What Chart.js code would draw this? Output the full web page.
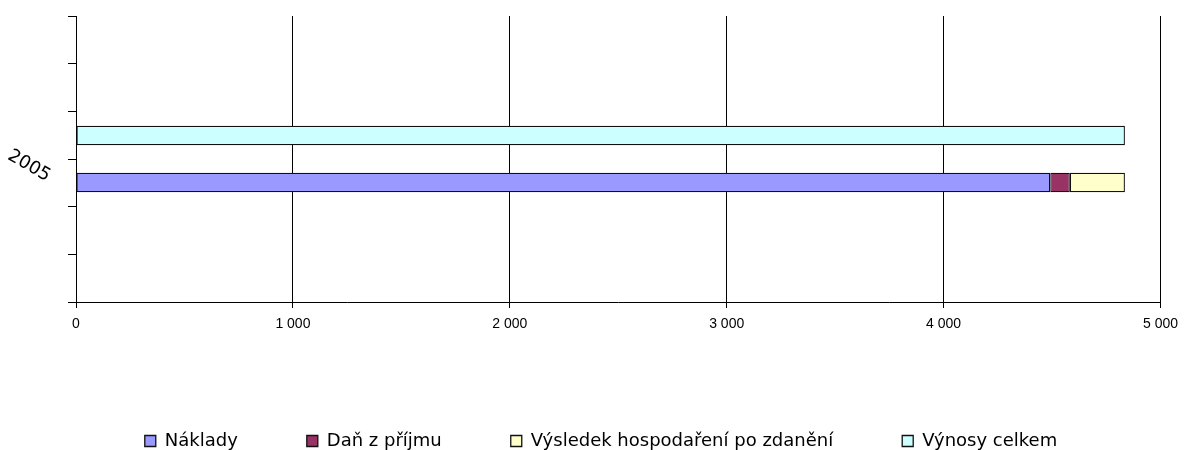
<!DOCTYPE html>
<html>
<head>
<meta charset="utf-8">
<script src="https://cdn.jsdelivr.net/npm/chart.js@4/dist/chart.umd.min.js"></script>
<style>
  html, body { margin: 0; padding: 0; background: #fff; }
  #wrap { width: 1186px; height: 450px; }
</style>
</head>
<body>
<div id="wrap"><canvas id="chart"></canvas></div>
<script>
// Data
const categories = ["2005"];
const naklady = [4492];
const danZPrijmu = [90];
const vysledek = [254];
const vynosy = [4836];
const xMin = 0;
const xMax = 5000;
const xStep = 1000;
// minor tick marks on the category axis (Excel draws 6 divisions)
const yMinorTicks = [0, 1, 2, 3, 4, 5, 6];

// "1 000" style thousands
function fmt(v) {
  return String(v).replace(/\B(?=(\d{3})+(?!\d))/g, " ");
}

// Draws the rotated category label at the category position
const categoryLabel = {
  id: "categoryLabel",
  afterLayout(chart) {
    // nudge legend a bit to the right like in the original
    const lg = chart.legend;
    if (lg) {
      lg.left += 20;
      lg.right += 20;
    }
  },
  afterDraw(chart) {
    const scale = chart.scales.y;
    const ctx = chart.ctx;
    scale.getLabels().forEach((label, i) => {
      const y = scale.getPixelForValue(i);
      ctx.save();
      ctx.translate(29, y + 7);
      ctx.rotate(Math.PI / 6);
      ctx.font = "18px 'DejaVu Sans'";
      ctx.fillStyle = "#000";
      ctx.textAlign = "center";
      ctx.textBaseline = "middle";
      ctx.fillText(label, 0, 0);
      ctx.restore();
    });
  },
};

const ctx = document.getElementById("chart").getContext("2d");
const chart = new Chart(ctx, {
  type: "bar",
  data: {
    labels: categories,
    datasets: [
      {
        label: "Náklady",
        data: naklady,
        backgroundColor: "#9999FF",
        stack: "a",
        order: 1,
      },
      {
        label: "Daň z příjmu",
        data: danZPrijmu,
        backgroundColor: "#993366",
        stack: "a",
        order: 1,
      },
      {
        label: "Výsledek hospodaření po zdanění",
        data: vysledek,
        backgroundColor: "#FFFFCC",
        stack: "a",
        order: 1,
      },
      {
        label: "Výnosy celkem",
        data: vynosy,
        backgroundColor: "#CCFFFF",
        stack: "b",
        order: 0,
      },
    ],
  },
  options: {
    indexAxis: "y",
    responsive: true,
    maintainAspectRatio: false,
    animation: false,
    datasets: {
      bar: {
        borderColor: "#111",
        borderWidth: 1.3,
        borderSkipped: false,
        barPercentage: 0.415,
        categoryPercentage: 0.329,
      },
    },
    layout: {
      padding: { top: 16, right: 24, bottom: 0, left: 0 },
    },
    plugins: {
      tooltip: { enabled: false },
      legend: {
        position: "bottom",
        maxHeight: 87,
        labels: {
          boxWidth: 11,
          boxHeight: 11,
          padding: 69,
          color: "#000",
          font: { family: "'DejaVu Sans'", size: 18 },
          sort: (a, b) => a.datasetIndex - b.datasetIndex,
        },
      },
    },
    scales: {
      x: {
        stacked: true,
        min: xMin,
        max: xMax,
        ticks: {
          stepSize: xStep,
          color: "#000",
          padding: 8,
          font: { family: "'Liberation Sans'", size: 14 },
          callback: (v) => fmt(v),
        },
        grid: {
          color: "#000",
          lineWidth: 1,
          tickLength: 6,
        },
        border: { display: true, color: "#000" },
        afterFit: (scale) => {
          scale.height = 61;
        },
      },
      y: {
        stacked: true,
        display: false,
      },
      y2: {
        type: "linear",
        position: "left",
        offset: false,
        min: yMinorTicks[0],
        max: yMinorTicks[yMinorTicks.length - 1],
        ticks: { display: false },
        grid: {
          offset: false,
          drawOnChartArea: false,
          color: "#000",
          tickLength: 8,
        },
        border: { display: true, color: "#000" },
        afterBuildTicks: (scale) => {
          scale.ticks = yMinorTicks.map((v) => ({ value: v }));
        },
        afterFit: (scale) => {
          scale.width = 76;
        },
      },
    },
  },
  plugins: [categoryLabel],
});
</script>
</body>
</html>
